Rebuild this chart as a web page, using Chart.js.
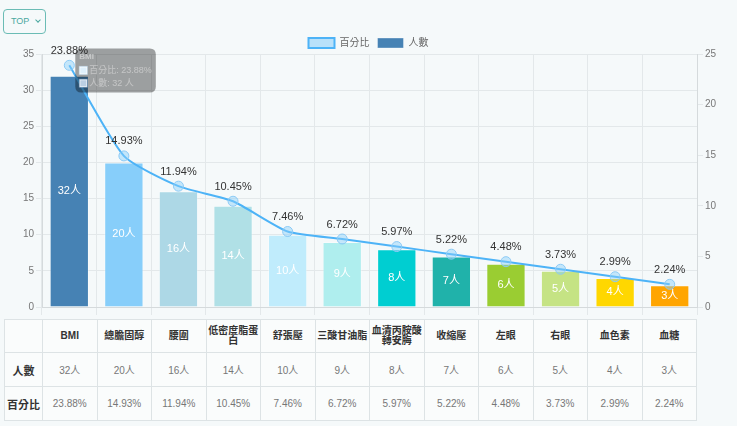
<!DOCTYPE html>
<html>
<head>
<meta charset="utf-8">
<script src="https://cdn.jsdelivr.net/npm/chart.js@4"></script>
<style>
  html, body { margin: 0; padding: 0; background: #f5f9fa; }
  body { width: 737px; height: 426px; position: relative; overflow: hidden;
         font-family: 'Liberation Sans', 'Noto Sans CJK TC', sans-serif; }
  .top-select { position: absolute; left: 3px; top: 9px; width: 41px; height: 23px;
    border: 1px solid #6bbcb5; border-radius: 4px; color: #4aa8a0; font-size: 9px;
    line-height: 23px; }
  .top-select span { position: absolute; left: 7px; }
  .top-select i { position: absolute; right: 5px; top: 8px; width: 3px; height: 3px;
    border-right: 1px solid #4aa8a0; border-bottom: 1px solid #4aa8a0; transform: rotate(45deg); }
  .chart-box { position: absolute; left: 0; top: 30px; width: 737px; height: 285px; }
  table { position: absolute; left: 4px; top: 319px; width: 693px; border-collapse: collapse;
    table-layout: fixed; background: #fafcfc; }
  td, th { border: 1px solid #dde3e5; text-align: center; padding: 0; }
  th { font-size: 10px; font-weight: bold; color: #333; line-height: 10px; height: 32px; }
  td { font-size: 10px; color: #777; height: 33px; }
  td.rowhead { font-size: 11px; font-weight: bold; color: #333; white-space: nowrap; }
</style>
</head>
<body>
<div class="top-select"><span>TOP</span><i></i></div>
<div class="chart-box"><canvas id="chart"></canvas></div>
<table id="table"></table>
<script>
const categories = ['BMI', '總膽固醇', '腰圍', '低密度脂蛋白', '舒張壓', '三酸甘油脂', '血清丙胺酸轉安脢', '收縮壓', '左眼', '右眼', '血色素', '血糖'];
const counts = [32, 20, 16, 14, 10, 9, 8, 7, 6, 5, 4, 3];
const percents = [23.88, 14.93, 11.94, 10.45, 7.46, 6.72, 5.97, 5.22, 4.48, 3.73, 2.99, 2.24];
const barColors = ['#4682b4', '#87cefa', '#add8e6', '#b0e0e6', '#c0ecfc', '#afeeee', '#00ced1', '#20b2aa', '#9acd32', '#c5e384', '#ffd700', '#ffa500'];

const FONT = "'Liberation Sans', 'Noto Sans CJK TC', sans-serif";
Chart.defaults.font.family = FONT;

// build the table under the chart
const table = document.getElementById('table');
let html = '<colgroup><col style="width:38px">' + categories.map(() => '<col>').join('') + '</colgroup>';
html += '<tr><th></th>' + categories.map(c => `<th>${c}</th>`).join('') + '</tr>';
html += '<tr><td class="rowhead">人數</td>' + counts.map(n => `<td>${n}人</td>`).join('') + '</tr>';
html += '<tr><td class="rowhead">百分比</td>' + percents.map(p => `<td>${p.toFixed(2)}%</td>`).join('') + '</tr>';
table.innerHTML = html;

// labels: percent above points, count inside bars
const valueLabels = {
  id: 'valueLabels',
  afterDatasetsDraw(chart) {
    const ctx = chart.ctx;
    ctx.save();
    ctx.textAlign = 'center';
    chart.getDatasetMeta(1).data.forEach((bar, i) => {
      ctx.font = `11px ${FONT}`;
      ctx.fillStyle = '#ffffff';
      ctx.textBaseline = 'middle';
      ctx.fillText(counts[i] + '人', bar.x, (bar.y + bar.base) / 2);
    });
    chart.getDatasetMeta(0).data.forEach((pt, i) => {
      ctx.font = `11px ${FONT}`;
      ctx.fillStyle = '#333333';
      ctx.textBaseline = 'bottom';
      ctx.fillText(percents[i].toFixed(2) + '%', pt.x, pt.y - 9);
    });
    ctx.restore();
  }
};

// legend sits a bit closer to the plot than the default spacing
const tightLegend = {
  id: 'tightLegend',
  beforeLayout(chart) {
    const lg = chart.legend;
    if (lg && !lg._tight) {
      const fit = lg.fit;
      lg.fit = function () { fit.call(this); this.height -= 4; };
      lg._tight = true;
    }
  }
};

const chart = new Chart(document.getElementById('chart'), {
  type: 'bar',
  data: {
    labels: categories,
    datasets: [
      {
        type: 'line',
        label: '百分比',
        data: percents,
        yAxisID: 'y1',
        borderColor: '#4db3f7',
        backgroundColor: 'rgba(135, 206, 250, 0.55)',
        borderWidth: 2,
        pointRadius: 5,
        pointBackgroundColor: 'rgba(135, 206, 250, 0.45)',
        pointBorderColor: '#8ccaf5',
        pointBorderWidth: 1,
        tension: 0.2,
      },
      {
        label: '人數',
        data: counts,
        yAxisID: 'y',
        backgroundColor: barColors,
        borderColor: 'rgba(255,255,255,0.35)',
        borderWidth: 1,
      },
    ],
  },
  options: {
    responsive: true,
    maintainAspectRatio: false,
    animation: false,
    layout: { padding: 0 },
    interaction: { mode: 'index', intersect: false },
    plugins: {
      legend: {
        position: 'top',
        labels: { boxWidth: 26, boxHeight: 10, padding: 8, color: '#666', font: { size: 10 } },
      },
      tooltip: {
        mode: 'index',
        position: 'average',
        xAlign: 'left',
        yAlign: 'center',
        backgroundColor: 'rgba(0, 0, 0, 0.36)',
        titleColor: 'rgba(255, 255, 255, 0.45)',
        bodyColor: 'rgba(255, 255, 255, 0.4)',
        titleFont: { size: 8, weight: 'bold' },
        bodyFont: { size: 9 },
        titleMarginBottom: 3,
        bodySpacing: 2,
        padding: { x: 4, y: 4 },
        boxWidth: 8,
        boxHeight: 8,
        caretSize: 0,
        caretPadding: 6,
        callbacks: {
          label: (item) => item.datasetIndex === 0
            ? `百分比: ${percents[item.dataIndex].toFixed(2)}%`
            : `人數: ${counts[item.dataIndex]} 人`,
          labelColor: (item) => item.datasetIndex === 0
            ? { borderColor: 'rgba(190, 225, 250, 0.5)', backgroundColor: 'rgba(190, 225, 250, 0.5)', borderWidth: 0 }
            : { borderColor: 'rgba(120, 160, 200, 0.5)', backgroundColor: 'rgba(120, 160, 200, 0.5)', borderWidth: 0 },
        },
      },
    },
    scales: {
      x: {
        ticks: { display: false },
        grid: { color: '#e3e8ea', tickLength: 8 },
        border: { color: '#d5dadc' },
      },
      y: {
        position: 'left',
        min: 0, max: 35,
        ticks: { stepSize: 5, color: '#777', font: { size: 10 }, padding: 2 },
        grid: { color: '#e3e8ea', tickLength: 6 },
        border: { color: '#d5dadc' },
        afterFit: (s) => { s.width = 42; },
      },
      y1: {
        position: 'right',
        min: 0, max: 25,
        ticks: { stepSize: 5, color: '#777', font: { size: 10 }, padding: 2 },
        grid: { drawOnChartArea: false, color: '#e3e8ea', tickLength: 6 },
        border: { color: '#d5dadc' },
        afterFit: (s) => { s.width = 40; },
      },
    },
  },
  plugins: [valueLabels, tightLegend],
});

// show the tooltip for the first category, as in the screenshot
const p0 = chart.getDatasetMeta(0).data[0];
const b0 = chart.getDatasetMeta(1).data[0];
chart.tooltip.setActiveElements(
  [{ datasetIndex: 0, index: 0 }, { datasetIndex: 1, index: 0 }],
  { x: p0.x, y: (p0.y + b0.y) / 2 }
);
chart.update();
</script>
</body>
</html>
